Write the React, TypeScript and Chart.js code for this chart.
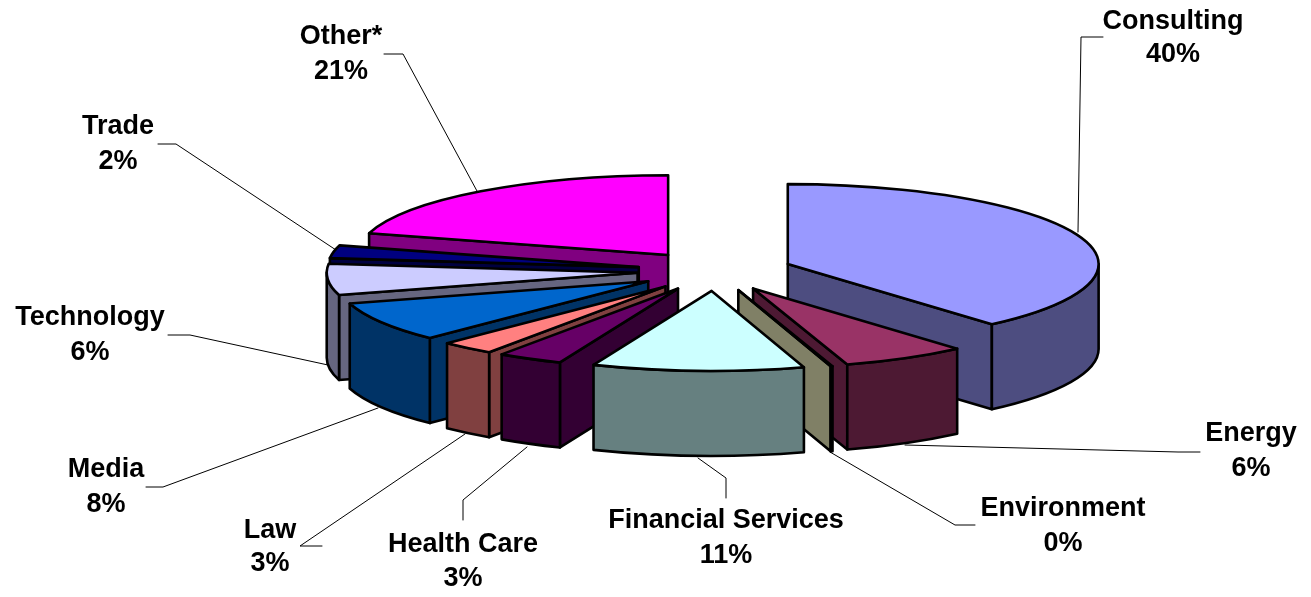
import React, { useEffect, useRef } from "react";
import { Chart, registerables } from "chart.js";

Chart.register(...registerables);

// Data
const categories = ["Consulting", "Energy", "Environment", "Financial Services", "Health Care", "Law", "Media", "Technology", "Trade", "Other*"];
const sliceShares = [38.6, 6.5, 0.1, 11, 3.4, 2.8, 8.1, 6.3, 2.6, 20.6];
const percentLabels = ["40%", "6%", "0%", "11%", "3%", "3%", "8%", "6%", "2%", "21%"];

// Styles
const topColors = ["#9999FF", "#993366", "#FFFFCC", "#CCFFFF", "#660066", "#FF8080", "#0066CC", "#CCCCFF", "#000080", "#FF00FF"];
const wallColors = ["#4D4D80", "#4D1933", "#808066", "#668080", "#330033", "#804040", "#003366", "#666680", "#000040", "#800080"];

// Label layout: centre x, first line y, second line y
const labelX = [1173, 1251, 1063, 726, 463, 270, 106, 90, 118, 341];
const labelY1 = [22, 434, 509, 521, 545, 531, 470, 318, 127, 37];
const labelY2 = [55, 469, 544, 556, 579, 564, 505, 353, 162, 72];
// Leader lines: [x, y] vertices from label to slice
const leaders = [
  [[1103, 37], [1081, 37], [1078, 232]],
  [[1200, 452], [1178, 452], [905, 445]],
  [[975, 525], [955, 525], [830, 452]],
  [[726, 498], [726, 478], [698, 458]],
  [[463, 520], [463, 500], [527, 447]],
  [[322, 546], [300, 546], [465, 434]],
  [[146, 487], [163, 487], [378, 408]],
  [[168, 335], [190, 335], [328, 365]],
  [[158, 144], [176, 144], [336, 250]],
  [[384, 54], [403, 54], [477, 191]],
];

const X_STRETCH = 312 / 270; // horizontal radius vs. the library's radius
const TILT = 0.257; // vertical squash of the pie's disc
const EXPLODE = 0.25; // slice separation as a share of the radius
const WALL = 85; // pie thickness in px
const OUTLINE = 2.6;

const pie3dPlugin = {
  id: "pie3d",
  beforeDatasetsDraw(chart: any) {
    const { ctx } = chart;
    const arcs = chart.getDatasetMeta(0).data as any[];
    const order = arcs
      .map((arc, i) => ({ arc, i, mid: (arc.startAngle + arc.endAngle) / 2 }))
      .sort((a, b) => Math.sin(a.mid) - Math.sin(b.mid));

    ctx.save();
    ctx.lineJoin = "round";
    ctx.lineCap = "round";
    ctx.strokeStyle = "#000";

    // leader lines sit under the pie
    ctx.lineWidth = 1;
    leaders.forEach((pts) => {
      ctx.beginPath();
      pts.forEach(([x, y], k) => (k ? ctx.lineTo(x, y) : ctx.moveTo(x, y)));
      ctx.stroke();
    });

    ctx.lineWidth = OUTLINE;
    order.forEach(({ arc, i, mid }) => {
      const rx = arc.outerRadius * X_STRETCH;
      const ry = rx * TILT;
      const ax = arc.x + Math.cos(mid) * rx * EXPLODE;
      const ay = arc.y + Math.sin(mid) * ry * EXPLODE;
      const edge = (a: number) => [ax + Math.cos(a) * rx, ay + Math.sin(a) * ry];

      const face = (a: number) => {
        const [ex, ey] = edge(a);
        ctx.beginPath();
        ctx.moveTo(ax, ay);
        ctx.lineTo(ex, ey);
        ctx.lineTo(ex, ey + WALL);
        ctx.lineTo(ax, ay + WALL);
        ctx.closePath();
        ctx.fillStyle = wallColors[i];
        ctx.fill();
        ctx.stroke();
      };
      // the screen-down direction decides which radial face the viewer sees
      if (Math.cos(arc.startAngle) < 0) face(arc.startAngle);
      if (Math.cos(arc.endAngle) > 0) face(arc.endAngle);

      const a0 = Math.max(arc.startAngle, 0);
      const a1 = Math.min(arc.endAngle, Math.PI);
      if (a1 > a0) {
        ctx.beginPath();
        ctx.ellipse(ax, ay, rx, ry, 0, a0, a1);
        ctx.ellipse(ax, ay + WALL, rx, ry, 0, a1, a0, true);
        ctx.closePath();
        ctx.fillStyle = wallColors[i];
        ctx.fill();
        ctx.stroke();
      }

      ctx.beginPath();
      ctx.moveTo(ax, ay);
      ctx.ellipse(ax, ay, rx, ry, 0, arc.startAngle, arc.endAngle);
      ctx.closePath();
      ctx.fillStyle = topColors[i];
      ctx.fill();
      ctx.stroke();
    });

    ctx.fillStyle = "#000";
    ctx.font = 'bold 27px "Liberation Sans", Arial, sans-serif';
    ctx.textAlign = "center";
    ctx.textBaseline = "middle";
    categories.forEach((name, i) => {
      ctx.fillText(name, labelX[i], labelY1[i]);
      ctx.fillText(percentLabels[i], labelX[i], labelY2[i]);
    });
    ctx.restore();
    return false;
  },
};

export default function App() {
  const ref = useRef<HTMLCanvasElement>(null);
  useEffect(() => {
    document.body.style.margin = "0";
    document.body.style.background = "#fff";
    const chart = new Chart(ref.current!, {
      type: "pie",
      data: {
        labels: categories,
        datasets: [{ data: sliceShares, backgroundColor: topColors, borderColor: "#000" }],
      },
      options: {
        responsive: false,
        animation: false,
        layout: { padding: { left: 445, right: 326, top: 1, bottom: 56 } },
        plugins: { legend: { display: false }, tooltip: { enabled: false } },
      },
      plugins: [pie3dPlugin],
    } as any);
    return () => chart.destroy();
  }, []);
  return <canvas ref={ref} width={1311} height={597} style={{ display: "block" }} />;
}
